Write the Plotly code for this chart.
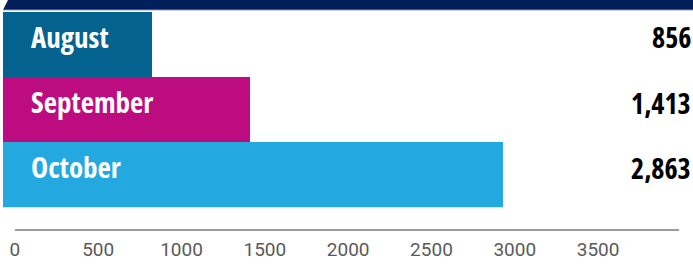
import plotly.graph_objects as go

months = ["August", "September", "October"]
values = [856, 1413, 2863]
bar_colors = ["#04628f", "#bd0c80", "#23a8e0"]
tick_values = [0, 500, 1000, 1500, 2000, 2500, 3000, 3500]
tick_labels = ["0", "500", "1000", "1500", "2000", "2500", "3000", "3500"]

W, H = 693, 275
COND = "Open Sans, sans-serif"

fig = go.Figure()
fig.add_trace(go.Bar(
    y=months, x=values, orientation="h",
    marker=dict(color=bar_colors, line=dict(width=0)),
    hoverinfo="skip", showlegend=False,
))
# invisible trace to keep the tick axis alive
fig.add_trace(go.Scatter(
    x=[tick_values[0]], y=[0], xaxis="x2", yaxis="y2",
    mode="markers", marker=dict(opacity=0), hoverinfo="skip", showlegend=False,
))

k_bar = 0.17447
k_tick = 0.16662
tick0_px = 14.9
axis_end_px = 679
axis_line_px = 228.5

fig.update_layout(
    width=W, height=H,
    margin=dict(l=0, r=0, t=0, b=0, autoexpand=False),
    paper_bgcolor="white", plot_bgcolor="rgba(0,0,0,0)",
    bargap=0,
    xaxis=dict(domain=[0, 1], range=[-3 / k_bar, (W - 3) / k_bar],
               visible=False, fixedrange=True, automargin=False),
    yaxis=dict(domain=[1 - 207.3 / H, 1 - 11.7 / H], type="category",
               autorange="reversed", visible=False, fixedrange=True,
               automargin=False),
    yaxis2=dict(domain=[1 - axis_line_px / H, 1 - (axis_line_px - 5) / H],
                visible=False, fixedrange=True, automargin=False),
    xaxis2=dict(anchor="y2",
                domain=[tick0_px / W, axis_end_px / W],
                range=[0, (axis_end_px - tick0_px) / k_tick],
                tickvals=tick_values, ticktext=tick_labels,
                showline=True, linecolor="#9b9b9b", linewidth=2,
                showgrid=False, zeroline=False, ticks="",
                ticklabelstandoff=3, automargin=False,
                tickfont=dict(family="Roboto, sans-serif", size=19, color="#5a5a5a"),
                side="bottom", fixedrange=True),
)

# top navy band with slanted left edge
fig.add_shape(type="path", xref="paper", yref="paper",
              path=f"M {8/W} 1 L 1 1 L 1 {1-10/H} L {3/W} {1-10/H} Z",
              fillcolor="#001f5b", line=dict(width=0), layer="above")
fig.add_shape(type="line", xref="paper", yref="paper",
              x0=3 / W, x1=1, y0=1 - 9.8 / H, y1=1 - 9.8 / H,
              line=dict(color="#5b7196", width=1), layer="above")

def cond(t):
    return f"<span style='font-stretch:condensed'><b>{t}</b></span>"

for m, v in zip(months, values):
    fig.add_annotation(x=29 / W, xref="paper", y=m, yref="y",
                       text=cond(m), showarrow=False, xanchor="left",
                       yanchor="middle", yshift=8,
                       font=dict(family=COND, size=29, color="white"))
    fig.add_annotation(x=1, xref="paper", y=m, yref="y",
                       text=cond(f"{v:,}"), showarrow=False, xanchor="right",
                       yanchor="middle", yshift=7, xshift=0,
                       font=dict(family=COND, size=28, color="black"))

fig.write_html("out.html", config={"displayModeBar": False},
               post_script="document.body.style.margin='0';")
